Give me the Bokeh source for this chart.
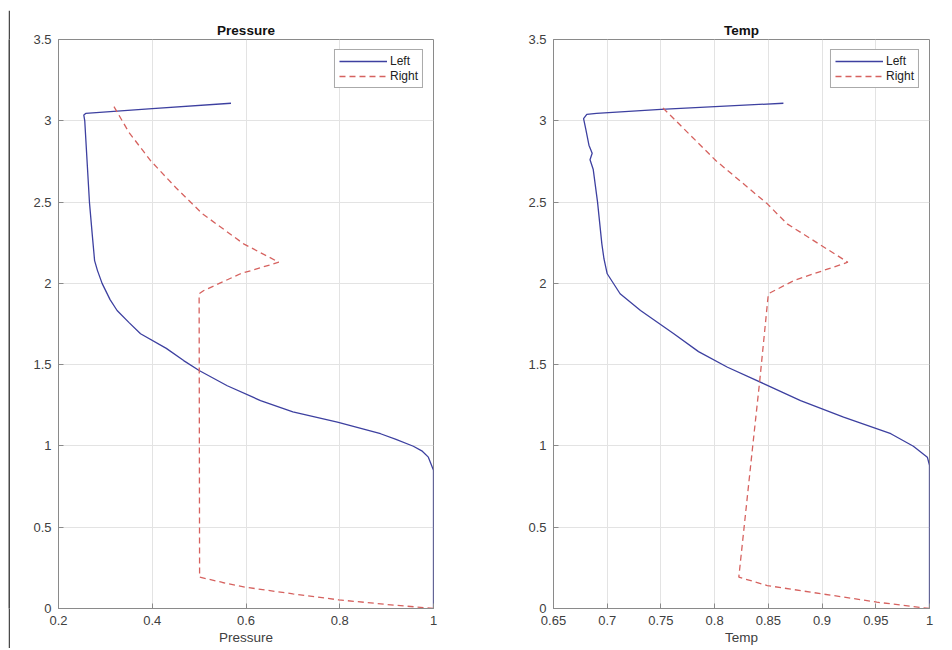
from bokeh.plotting import figure
from bokeh.layouts import row, column
from bokeh.models import FixedTicker, Range1d, Legend, LegendItem
from bokeh.embed import file_html
from bokeh.resources import INLINE

# ---------------- data ----------------
# Pressure panel
p_left_x = [1.0, 1.0, 0.989, 0.975, 0.957, 0.92, 0.887, 0.795, 0.70, 0.631, 0.56, 0.5, 0.467, 0.43,
            0.375, 0.35, 0.325, 0.31, 0.293, 0.283, 0.277, 0.272, 0.266, 0.261, 0.256, 0.254, 0.258, 0.40, 0.568]
p_left_y = [0.0, 0.85, 0.931, 0.97, 0.998, 1.04, 1.075, 1.146, 1.21, 1.279, 1.37, 1.464, 1.525, 1.60,
            1.69, 1.76, 1.833, 1.9, 2.0, 2.08, 2.14, 2.3, 2.5, 2.75, 3.0, 3.035, 3.045, 3.075, 3.108]
p_right_x = [1.0, 0.9, 0.798, 0.7, 0.599, 0.55, 0.501, 0.5, 0.51, 0.588, 0.67, 0.595, 0.507, 0.45, 0.396, 0.35, 0.315]
p_right_y = [0.0, 0.025, 0.053, 0.09, 0.131, 0.16, 0.193, 1.936, 1.956, 2.059, 2.13, 2.243, 2.428, 2.59, 2.756, 2.93, 3.104]

# Temp panel
t_left_x = [1.0, 1.0, 0.998, 0.985, 0.964, 0.92, 0.88, 0.846, 0.812, 0.785, 0.762, 0.731, 0.712, 0.700,
            0.697, 0.695, 0.691, 0.687, 0.684, 0.686, 0.683, 0.680, 0.678, 0.681, 0.690, 0.75, 0.864]
t_left_y = [0.0, 0.88, 0.931, 0.998, 1.075, 1.177, 1.279, 1.382, 1.484, 1.58, 1.69, 1.833, 1.936, 2.059,
            2.15, 2.243, 2.5, 2.7, 2.76, 2.8, 2.85, 2.95, 3.013, 3.04, 3.045, 3.07, 3.108]
t_right_x = [1.0, 0.951, 0.9, 0.849, 0.8225, 0.835, 0.842, 0.850, 0.874, 0.924, 0.8675, 0.849, 0.801, 0.7496]
t_right_y = [0.0, 0.039, 0.090, 0.141, 0.193, 0.972, 1.402, 1.936, 2.018, 2.130, 2.366, 2.489, 2.756, 3.094]

y_ticks = [0, 0.5, 1, 1.5, 2, 2.5, 3, 3.5]
y_labels = ["0", "0.5", "1", "1.5", "2", "2.5", "3", "3.5"]
p_xticks = [0.2, 0.4, 0.6, 0.8, 1.0]
p_xlabels = ["0.2", "0.4", "0.6", "0.8", "1"]
t_xticks = [0.65, 0.7, 0.75, 0.8, 0.85, 0.9, 0.95, 1.0]
t_xlabels = ["0.65", "0.7", "0.75", "0.8", "0.85", "0.9", "0.95", "1"]

BLUE = "#3d40a0"
RED = "#d6625f"
FONT = "Liberation Sans"
AXIS_COL = "#8a8a8a"
TEXT_COL = "#404040"
FRAME_COL = "#4a4a4a"


def make_panel(title, xr, xticks, xlabels, lx, ly, rx, ry, width, mbl, mbr):
    p = figure(width=width, height=638, x_range=Range1d(*xr), y_range=Range1d(0, 3.5),
               output_backend="svg", toolbar_location=None, title=title,
               min_border_left=mbl, min_border_right=mbr, min_border_top=29, min_border_bottom=40)
    p.title.align = "center"
    p.title.text_font = FONT
    p.title.text_font_size = "13.5px"
    p.title.text_font_style = "bold"
    p.title.text_color = "#111111"
    p.title.standoff = 4
    p.outline_line_color = AXIS_COL
    p.outline_line_width = 1
    p.background_fill_color = "white"
    p.border_fill_color = "white"

    for ax in p.xaxis:
        ax.ticker = FixedTicker(ticks=xticks)
        ax.major_label_overrides = {t: l for t, l in zip(xticks, xlabels)}
        ax.axis_label = title
        ax.major_label_standoff = 7
        ax.axis_label_standoff = 2
    for ax in p.yaxis:
        ax.ticker = FixedTicker(ticks=y_ticks)
        ax.major_label_overrides = {t: l for t, l in zip(y_ticks, y_labels)}
        ax.major_label_standoff = 7
    for ax in p.xaxis + p.yaxis:
        ax.axis_line_color = AXIS_COL
        ax.major_tick_line_color = AXIS_COL
        ax.major_tick_in = 5
        ax.major_tick_out = 0
        ax.minor_tick_line_color = None
        ax.major_label_text_font = FONT
        ax.major_label_text_font_size = "13px"
        ax.major_label_text_color = TEXT_COL
        ax.axis_label_text_font = FONT
        ax.axis_label_text_font_size = "13.5px"
        ax.axis_label_text_font_style = "normal"
        ax.axis_label_text_color = TEXT_COL

    p.xgrid.ticker = FixedTicker(ticks=xticks)
    p.ygrid.ticker = FixedTicker(ticks=y_ticks)
    p.grid.grid_line_color = "#e3e3e3"
    p.grid.grid_line_width = 1

    r1 = p.line(lx, ly, line_color=BLUE, line_width=1.3)
    r2 = p.line(rx, ry, line_color=RED, line_width=1.3, line_dash="6 4")

    legend = Legend(items=[LegendItem(label="Left", renderers=[r1]),
                           LegendItem(label="Right", renderers=[r2])],
                    location="top_right")
    legend.label_text_font = FONT
    legend.label_text_font_size = "12px"
    legend.label_text_color = "#222222"
    legend.glyph_width = 48
    legend.glyph_height = 12
    legend.label_height = 12
    legend.label_standoff = 3
    legend.spacing = 1
    legend.padding = 4
    legend.margin = 10
    legend.border_line_color = "#555555"
    legend.border_line_width = 1
    legend.background_fill_alpha = 1.0
    p.add_layout(legend)
    return p


def frame_bar(w, h):
    b = figure(width=w, height=h, output_backend="svg", toolbar_location=None, title=None,
               x_axis_location=None, y_axis_location=None,
               min_border_left=0, min_border_right=0, min_border_top=0, min_border_bottom=0)
    b.grid.visible = False
    b.outline_line_color = None
    b.background_fill_color = FRAME_COL
    b.border_fill_color = FRAME_COL
    return b


p1 = make_panel("Pressure", (0.2, 1.0), p_xticks, p_xlabels,
                p_left_x, p_left_y, p_right_x, p_right_y, 466, 48, 43)
p2 = make_panel("Temp", (0.65, 1.0), t_xticks, t_xlabels,
                t_left_x, t_left_y, t_right_x, t_right_y, 470, 77, 17)

top_bar = frame_bar(938, 2)
left_bar = frame_bar(2, 638)

layout = column(top_bar, row(left_bar, p1, p2))
layout.margin = (8, 0, 0, 8)

open("out.html", "w").write(file_html(layout, INLINE))
